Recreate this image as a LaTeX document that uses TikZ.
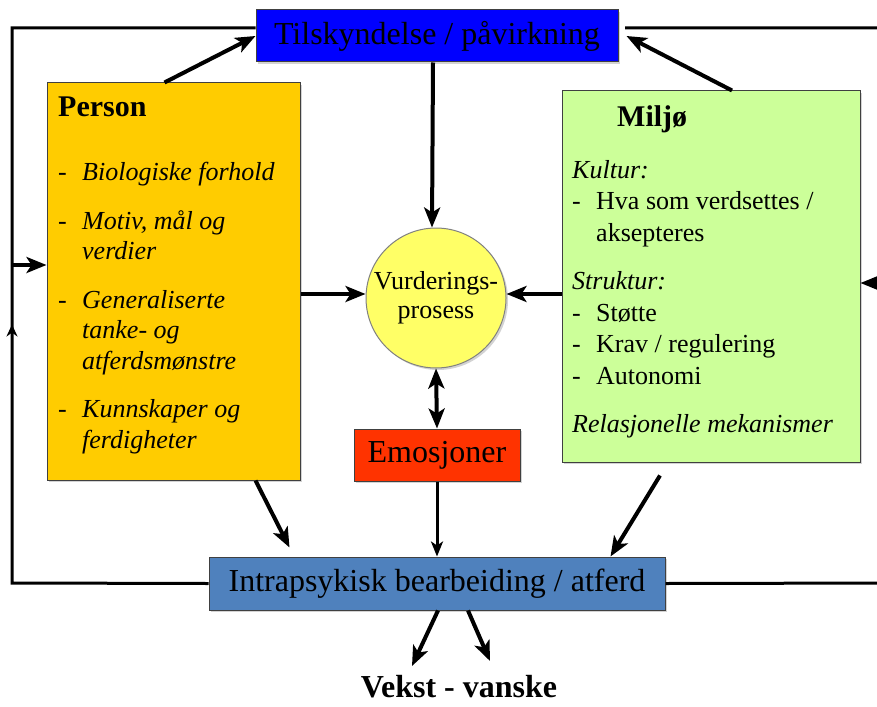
\documentclass[tikz,border=0pt]{standalone}
\usepackage{fontspec}
\setmainfont{Liberation Serif}
\usetikzlibrary{arrows.meta,decorations.markings,shadows}

\definecolor{tilskblue}{RGB}{0,0,255}
\definecolor{personyellow}{RGB}{255,204,0}
\definecolor{miljogreen}{RGB}{204,255,153}
\definecolor{vurdyellow}{RGB}{255,255,102}
\definecolor{emored}{RGB}{255,51,0}
\definecolor{intrablue}{RGB}{79,129,189}

\tikzset{
  box/.style={draw=black!75,line width=1pt,inner sep=0pt,
    drop shadow={shadow xshift=2pt,shadow yshift=-2pt,opacity=0.35}},
  flow/.style={line width=4pt,-{Stealth[length=20pt,width=16pt,inset=5pt]}},
  thinflow/.style={line width=3pt,-{Stealth[length=15pt,width=12pt,inset=4pt]}},
  loopline/.style={line width=3pt},
  bigtxt/.style={font=\fontsize{32}{36}\selectfont},
  listtxt/.style={anchor=north west,inner sep=0pt,align=left},
}

\newcommand{\dashitem}[1]{\makebox[24pt][l]{-}#1}
\newcommand{\dashcont}[1]{\hspace*{24pt}#1}

\begin{document}
\begin{tikzpicture}[x=1pt,y=-1pt]
  \useasboundingbox (0,0) rectangle (877,706);
  \clip (0,0) rectangle (877,706);

  % main boxes
  \node[box,fill=tilskblue,minimum width=362,minimum height=52,bigtxt] (tilsk) at (437,36) {Tilskyndelse / påvirkning};
  \node[box,fill=personyellow,minimum width=253,minimum height=397] (person) at (173.5,281.5) {};
  \node[box,fill=miljogreen,minimum width=298,minimum height=371] (miljo) at (711,276.5) {};
  \node[box,shape=circle,fill=vurdyellow,draw=black!50,minimum size=140,align=center,
        font=\fontsize{26}{29}\selectfont] (vurd) at (436,298) {Vurderings-\\prosess};
  \node[box,fill=emored,minimum width=166,minimum height=52,bigtxt] (emo) at (437,455) {Emosjoner};
  \node[box,fill=intrablue,minimum width=456,minimum height=53,bigtxt] (intra) at (437,583.5) {Intrapsykisk bearbeiding / atferd};
  \node[inner sep=0pt,font=\fontsize{32}{36}\selectfont\bfseries] (vekst) at (459,687) {Vekst - vanske};

  % text in the boxes
  \node[anchor=base west,inner sep=0pt,font=\fontsize{30}{34}\selectfont\bfseries] (persontitle) at (58,117) {Person};
  \node[listtxt,font=\fontsize{26}{30.5}\selectfont\itshape] (personlist) at (58,162) {%
    \dashitem{Biologiske forhold}\\[18pt]
    \dashitem{Motiv, mål og}\\
    \dashcont{verdier}\\[18pt]
    \dashitem{Generaliserte}\\
    \dashcont{tanke- og}\\
    \dashcont{atferdsmønstre}\\[18pt]
    \dashitem{Kunnskaper og}\\
    \dashcont{ferdigheter}};
  \node[anchor=base west,inner sep=0pt,font=\fontsize{30}{34}\selectfont\bfseries] (miljotitle) at (617,127) {Miljø};
  \node[listtxt,font=\fontsize{26}{31.5}\selectfont] (miljolist) at (572,160) {%
    \textit{Kultur:}\\
    \dashitem{Hva som verdsettes /}\\
    \dashcont{aksepteres}\\[17pt]
    \textit{Struktur:}\\
    \makebox[24pt][l]{-}Støtte\\
    \makebox[24pt][l]{-}Krav / regulering\\
    \makebox[24pt][l]{-}Autonomi\\[17pt]
    \textit{Relasjonelle mekanismer}};

  % outer loop
  \coordinate (lb) at (12,583);
  \coordinate (lt) at (12,28);
  \coordinate (lp) at (12,265);
  \coordinate (rb) at (895,583);
  \coordinate (rt) at (895,28);
  \coordinate (rm) at (895,283);
  \coordinate (tr) at (625,28);
  \draw[loopline,postaction={decorate},decoration={markings,
        mark=at position 455pt with {\arrow{Stealth[length=12pt,width=11pt]}}}]
    (intra.west) -- (lb) -- (lt) -- (tilsk.west |- lt);
  \draw[loopline] (intra.east) -- (rb) -- (rt) -- (tr);
  \draw[flow] (lp) -- (lp -| person.west);
  \draw[flow] (rm) -- (rm -| miljo.east);

  % arrows between boxes
  \draw[flow] ([xshift=-9pt]person.north) -- (tilsk.west);
  \draw[flow] ([xshift=21pt]miljo.north) -- ([xshift=8pt]tilsk.east);
  \draw[flow] ([xshift=-4pt]tilsk.south) -- ([xshift=-4pt]vurd.north);
  \draw[flow] (person.east |- 0,294) -- (vurd.west |- 0,294);
  \draw[flow] (miljo.west |- 0,294) -- (vurd.east |- 0,294);
  \draw[line width=4pt,{Stealth[length=20pt,width=16pt,inset=5pt]}-{Stealth[length=20pt,width=16pt,inset=5pt]}] (vurd.south) -- (emo.north);
  \draw[thinflow] (emo.south) -- (intra.north);
  \draw[flow] ([xshift=-45pt]person.south east) -- ([xshift=81pt,yshift=9pt]intra.north west);
  \draw[flow] ([xshift=-51pt,yshift=-13pt]miljo.south) -- ([xshift=-55pt]intra.north east);

  % to the outcome
  \coordinate (v1) at (412,666);
  \coordinate (v2) at (490,661);
  \draw[flow] ([xshift=1pt]intra.south) -- (v1);
  \draw[flow] ([xshift=31pt]intra.south) -- (v2);
\end{tikzpicture}
\end{document}
